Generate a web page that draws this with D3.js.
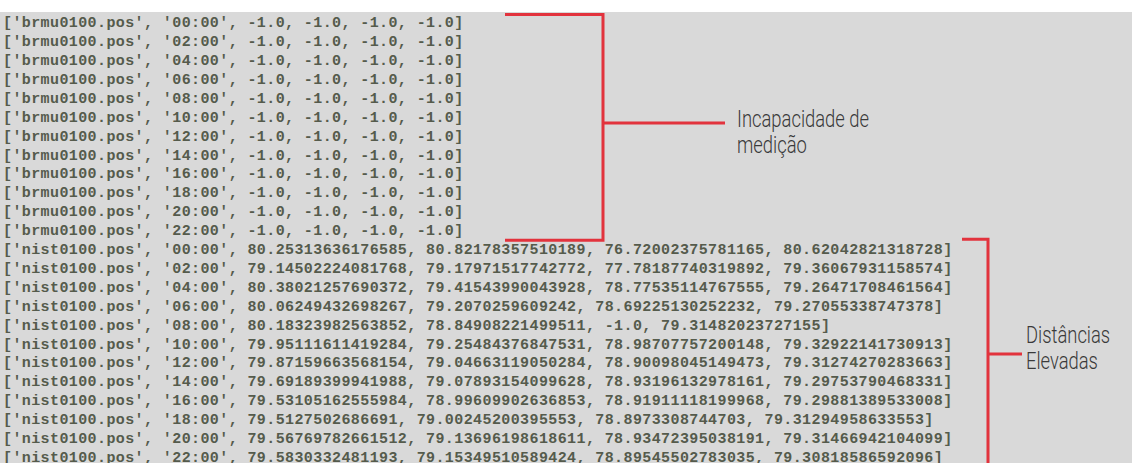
<!doctype html>
<meta charset="utf-8">
<style>
body { margin: 0; background: #fff; }
.row { font: bold 15px "Liberation Mono", monospace; fill: #555b4c; letter-spacing: 0.4px; }
.note { font: 300 23px Roboto, sans-serif; fill: #3a3a3a; }
.bracket { stroke: #e2333d; stroke-width: 3; fill: none; }
</style>
<body>
<script src="https://d3js.org/d3.v7.min.js"></script>
<script>
// stations and sampling times, as printed in the log
var stations = ["brmu0100.pos", "nist0100.pos"];
var times = ["00:00", "02:00", "04:00", "06:00", "08:00", "10:00",
             "12:00", "14:00", "16:00", "18:00", "20:00", "22:00"];

// brmu0100: all four measures failed (-1.0)
var brmuValues = [
  [-1, -1, -1, -1], [-1, -1, -1, -1], [-1, -1, -1, -1], [-1, -1, -1, -1],
  [-1, -1, -1, -1], [-1, -1, -1, -1], [-1, -1, -1, -1], [-1, -1, -1, -1],
  [-1, -1, -1, -1], [-1, -1, -1, -1], [-1, -1, -1, -1], [-1, -1, -1, -1]
];

// nist0100: elevated distances
var nistValues = [
  [80.25313636176585, 80.82178357510189, 76.72002375781165, 80.62042821318728],
  [79.14502224081768, 79.17971517742772, 77.78187740319892, 79.36067931158574],
  [80.38021257690372, 79.41543990043928, 78.77535114767555, 79.26471708461564],
  [80.06249432698267, 79.2070259609242, 78.69225130252232, 79.27055338747378],
  [80.18323982563852, 78.84908221499511, -1, 79.31482023727155],
  [79.95111611419284, 79.25484376847531, 78.98707757200148, 79.32922141730913],
  [79.87159663568154, 79.04663119050284, 78.90098045149473, 79.31274270283663],
  [79.69189399941988, 79.07893154099628, 78.93196132978161, 79.29753790468331],
  [79.53105162555984, 78.99609902636853, 78.91911118199968, 79.29881389533008],
  [79.5127502686691, 79.00245200395553, 78.8973308744703, 79.31294958633553],
  [79.56769782661512, 79.13696198618611, 78.93472395038191, 79.31466942104099],
  [79.5830332481193, 79.15349510589424, 78.89545502783035, 79.30818586592096]
];

var notes = [["Incapacidade de", "medição"], ["Distâncias", "Elevadas"]];

var width = 1132, height = 463;

function fmt(v) { return Number.isInteger(v) ? v.toFixed(1) : String(v); }

var rows = [];
stations.forEach(function(st, s) {
  var vals = s === 0 ? brmuValues : nistValues;
  times.forEach(function(t, i) {
    rows.push({ station: st, line: "['" + st + "', '" + t + "', " + vals[i].map(fmt).join(", ") + "]" });
  });
});

var svg = d3.select("body").append("svg")
  .attr("width", width)
  .attr("height", height);

// terminal background
svg.append("rect").attr("x", 0).attr("y", 12).attr("width", width).attr("height", height - 12)
  .attr("fill", "#d9d9d9");

var y = d3.scaleBand()
  .domain(d3.range(rows.length))
  .range([12.5, 12.5 + rows.length * 18.9]);

svg.selectAll(".row")
  .data(rows)
  .enter().append("text")
  .attr("class", "row")
  .attr("x", 3)
  .attr("y", function(d, i) { return y(i) + y.bandwidth() / 2; })
  .attr("dy", "0.35em")
  .text(function(d) { return d.line; });

// brackets
var n = times.length;
var brackets = [
  { x0: 505, x1: 603, top: y(0) + 2, bottom: y(n - 1) + y.bandwidth() + 1, mid: 123, tip: 725, tx: 737, ty: 4 },
  { x0: 962, x1: 988, top: y(n) + 0, bottom: height + 10, mid: 354, tip: 1022, tx: 1026, ty: -11 }
];

brackets.forEach(function(b, k) {
  svg.append("path").attr("class", "bracket")
    .attr("d", "M" + b.x0 + "," + b.top + "H" + b.x1 + "V" + b.bottom + "H" + b.x0);
  svg.append("line").attr("class", "bracket")
    .attr("x1", b.x1).attr("x2", b.tip).attr("y1", b.mid).attr("y2", b.mid);
  var g = svg.append("g")
    .attr("transform", "translate(" + b.tx + "," + (b.mid + b.ty) + ") scale(0.8,1)");
  g.append("text").attr("class", "note").attr("x", 0).attr("y", 0).text(notes[k][0]);
  g.append("text").attr("class", "note").attr("x", 0).attr("y", 26).text(notes[k][1]);
});
</script>
</body>
